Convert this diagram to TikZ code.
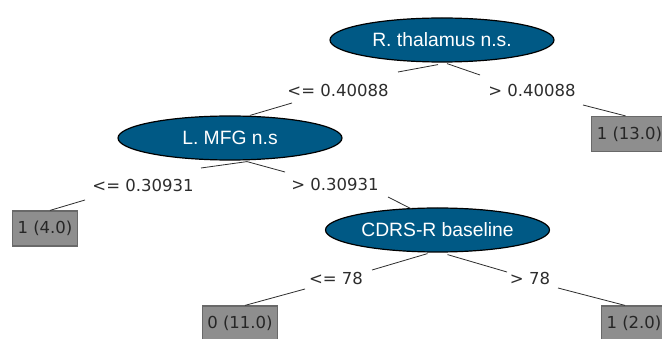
\documentclass[tikz,border=0pt]{standalone}
\usepackage{fontspec}
\setmainfont{Liberation Sans}
\newfontfamily\labelfont{DejaVu Sans}
\usetikzlibrary{shapes.geometric,calc}

\definecolor{splitblue}{RGB}{0,89,133}
\definecolor{leafgray}{RGB}{142,142,142}
\definecolor{leafedge}{RGB}{105,105,105}
\definecolor{edgeink}{RGB}{45,45,45}

\tikzset{
  split/.style={ellipse, draw=black, line width=1.2pt, fill=splitblue,
    minimum width=224pt, minimum height=44pt, inner sep=0pt,
    text=white, font=\fontsize{19.3}{22}\selectfont},
  leaf/.style={rectangle, draw=leafedge, line width=1.2pt, fill=leafgray,
    minimum height=35pt, inner xsep=5pt, inner ysep=0pt,
    text=black!85, font=\labelfont\fontsize{16.5}{19}\selectfont},
  cond/.style={inner sep=0pt, text=edgeink,
    font=\labelfont\fontsize{16.5}{19}\selectfont},
  branch/.style={draw=edgeink, line width=0.8pt}
}

\begin{document}
\begin{tikzpicture}[x=1pt,y=-1pt]
  \useasboundingbox (0,0) rectangle (662,339);
  \fill[white] (0,0) rectangle (662,339);

  % decision nodes
  \node[split] (thal) at (442,40) {R. thalamus n.s.};
  \node[split] (mfg)  at (230,138) {L. MFG n.s};
  \node[split] (cdrs) at (437.5,230) {CDRS-R baseline};

  % branch conditions
  \node[cond] (c1) at (338,90)  {<= 0.40088};
  \node[cond] (c2) at (532,90)  {> 0.40088};
  \node[cond] (c3) at (143,185) {<= 0.30931};
  \node[cond] (c4) at (335,184) {> 0.30931};
  \node[cond] (c5) at (336,278) {<= 78};
  \node[cond] (c6) at (530,278) {> 78};

  % leaves
  \node[leaf] (l13) at (629.5,134)  {1 (13.0)};
  \node[leaf] (l4)  at (45,228.5)   {1 (4.0)};
  \node[leaf] (l11) at (240,323.5)  {0 (11.0)};
  \node[leaf] (l2)  at (634,323.5)  {1 (2.0)};

  % branches: parent -> condition -> child
  \draw[branch] ($(thal.south)+(-4,2)$) -- ($(c1.center)+(60,-18)$);
  \draw[branch] ($(c1.center)+(-46,13)$) -- ($(mfg.north)+(20,0)$);
  \draw[branch] ($(thal.south)+(5,1)$) -- ($(c2.center)+(-52,-15)$);
  \draw[branch] ($(c2.center)+(51,15)$) -- ($(l13.north)+(-4,0)$);

  \draw[branch] ($(mfg.south)+(17,1)$) -- ($(c3.center)+(58,-17)$);
  \draw[branch] ($(c3.center)+(-58,15)$) -- ($(l4.north)+(5,0)$);
  \draw[branch] ($(mfg.south)+(17,1)$) -- ($(c4.center)+(-50,-12)$);
  \draw[branch] ($(c4.center)+(53,13)$) -- ($(cdrs.north)+(-25,2)$);

  \draw[branch] ($(cdrs.south)+(-10,1)$) -- ($(c5.center)+(36,-8)$);
  \draw[branch] ($(c5.center)+(-31,11)$) -- ($(l11.north)+(5,0)$);
  \draw[branch] ($(cdrs.south)+(10,2)$) -- ($(c6.center)+(-23,-6)$);
  \draw[branch] ($(c6.center)+(28,10)$) -- ($(l2.north)+(-9,0)$);
\end{tikzpicture}
\end{document}
